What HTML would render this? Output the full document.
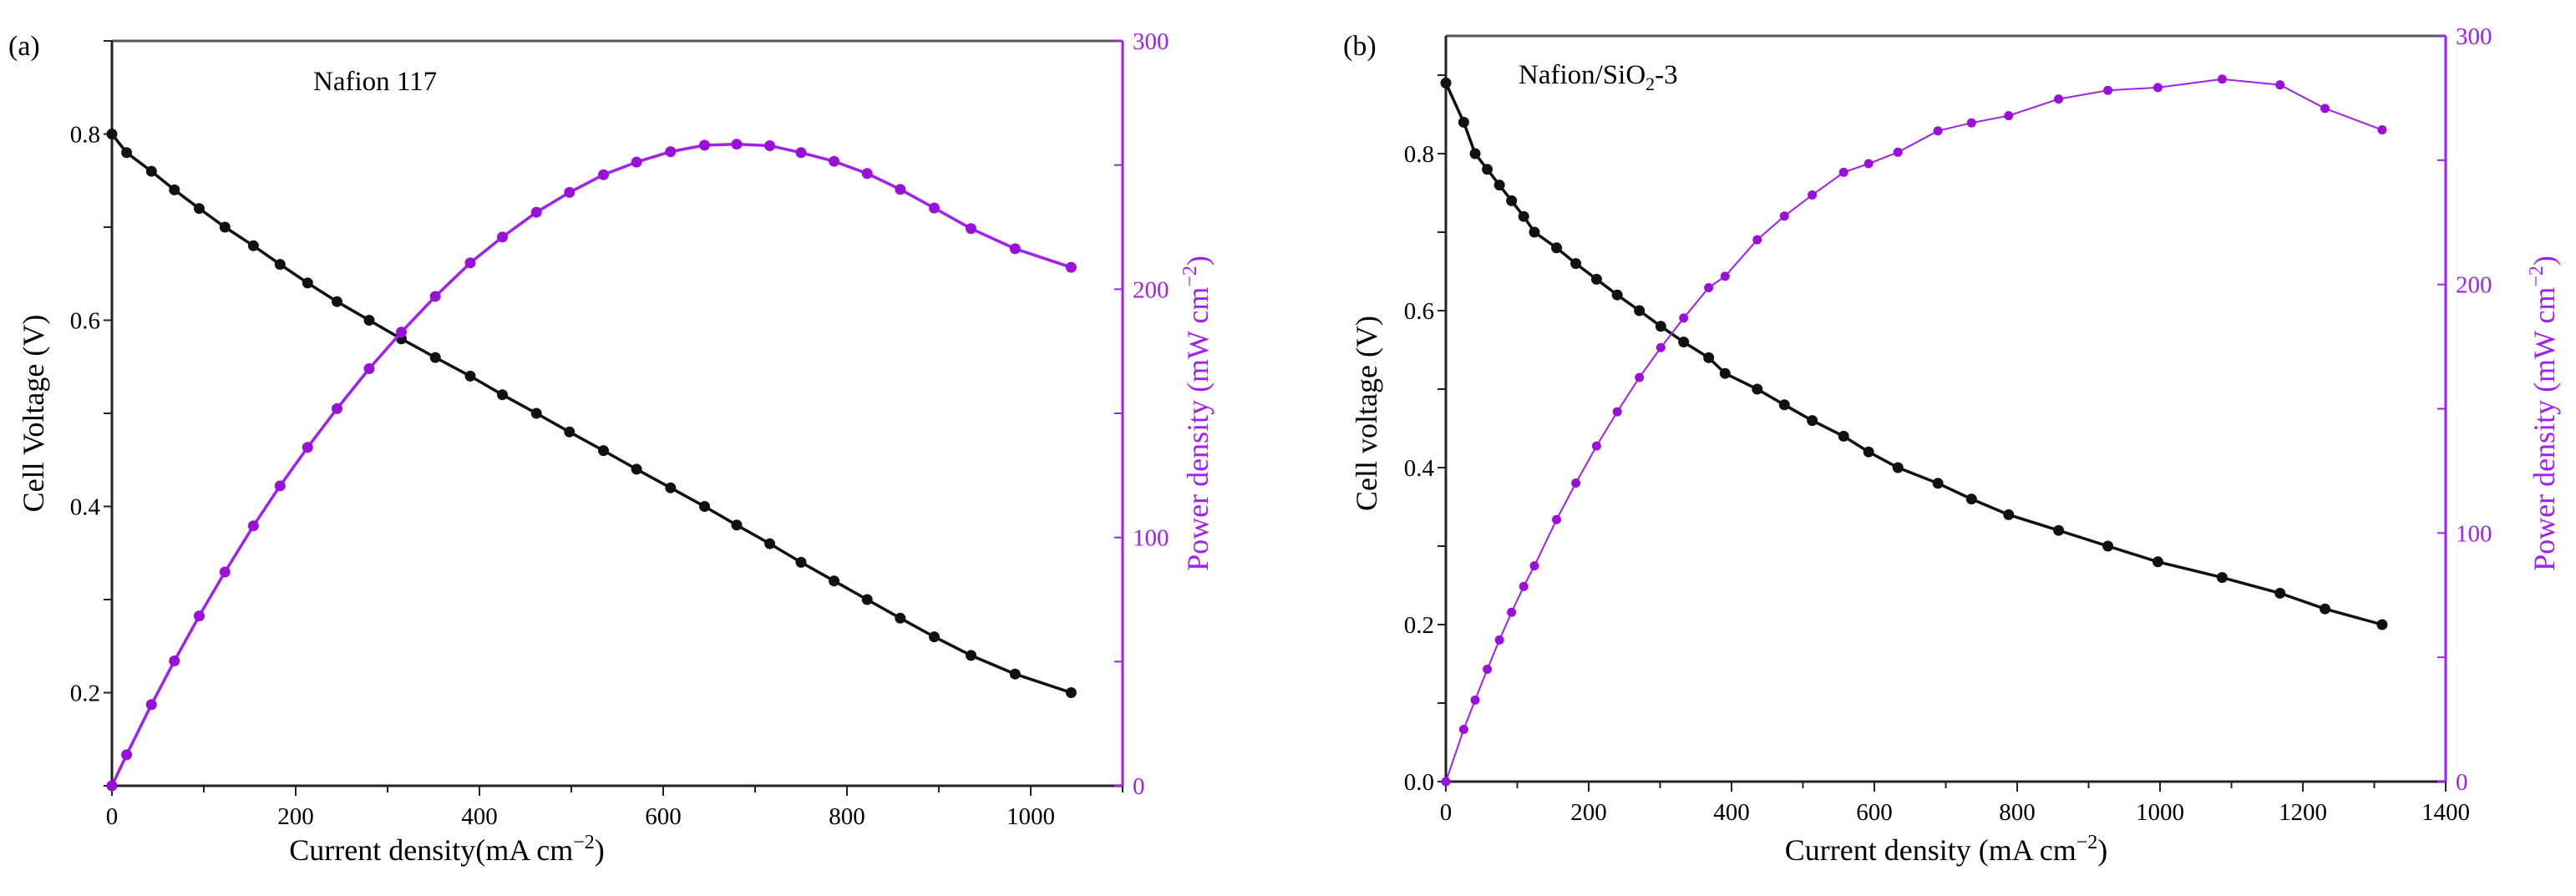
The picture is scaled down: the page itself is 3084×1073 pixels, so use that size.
<!DOCTYPE html>
<html><head><meta charset="utf-8"><style>
html,body{margin:0;padding:0;background:#fff;}
svg{display:block;font-family:"Liberation Serif",serif;}
</style></head><body>
<svg id="fig" width="3084" height="1073" viewBox="0 0 3084 1073" xmlns="http://www.w3.org/2000/svg">
<text x="10" y="66" font-size="34">(a)</text>
<text x="1608" y="66" font-size="34">(b)</text>
<text x="375" y="108" font-size="33">Nafion 117</text>
<text x="1818" y="100" font-size="33">Nafion/SiO<tspan font-size="22" dy="8">2</tspan><tspan dy="-8">-3</tspan></text>
<text x="535" y="1030" font-size="36" text-anchor="middle">Current density(mA cm<tspan font-size="24" dy="-14">−2</tspan><tspan dy="14">)</tspan></text>
<text x="2330" y="1030" font-size="36" text-anchor="middle">Current density (mA cm<tspan font-size="24" dy="-14">−2</tspan><tspan dy="14">)</tspan></text>
<text transform="translate(52,495) rotate(-90)" font-size="36" text-anchor="middle">Cell Voltage (V)</text>
<text transform="translate(1648,495) rotate(-90)" font-size="36" text-anchor="middle">Cell voltage (V)</text>
<text transform="translate(1446,495) rotate(-90)" font-size="36" fill="#a020f0" text-anchor="middle">Power density (mW cm<tspan font-size="24" dy="-14">−2</tspan><tspan dy="14">)</tspan></text>
<text transform="translate(3058,495) rotate(-90)" font-size="36" fill="#a020f0" text-anchor="middle">Power density (mW cm<tspan font-size="24" dy="-14">−2</tspan><tspan dy="14">)</tspan></text>
<g id="plots"></g>
</svg>
<script>
// Panel (a) Nafion 117
const currentA = [0,16,43,68,95,123,154,183,213,245,280,315,352,390,425,462,498,535,571,608,645,680,716,750,786,822,858,895,935,983,1044];
const voltageA = [0.80,0.78,0.76,0.74,0.72,0.70,0.68,0.66,0.64,0.62,0.60,0.58,0.56,0.54,0.52,0.50,0.48,0.46,0.44,0.42,0.40,0.38,0.36,0.34,0.32,0.30,0.28,0.26,0.24,0.22,0.20];
const powerA = [0,12.5,32.7,50.3,68.4,86.1,104.7,120.8,136.3,151.9,168,182.7,197.1,210.6,221,231,239,246.1,251.2,255.4,258,258.4,257.8,255,251.5,246.6,240.2,232.7,224.4,216.3,208.8];
// Panel (b) Nafion/SiO2-3
const currentB = [0,25,41,58,75,92,109,124,155,182,211,240,271,301,333,368,391,436,474,513,557,592,633,689,736,788,858,927,997,1087,1168,1231,1311];
const voltageB = [0.89,0.84,0.80,0.78,0.76,0.74,0.72,0.70,0.68,0.66,0.64,0.62,0.60,0.58,0.56,0.54,0.52,0.50,0.48,0.46,0.44,0.42,0.40,0.38,0.36,0.34,0.32,0.30,0.28,0.26,0.24,0.22,0.20];
const powerB = [0,21,32.8,45.2,57,68.1,78.5,86.8,105.4,120.1,135,148.8,162.6,174.6,186.5,198.7,203.3,218,227.5,236,245.1,248.6,253.2,261.8,265,267.9,274.6,278.1,279.2,282.6,280.3,270.8,262.2];
const xTicksA = [0,200,400,600,800,1000];
const xTicksB = [0,200,400,600,800,1000,1200,1400];
const yTicksA = ["0.2","0.4","0.6","0.8"];
const yTicksB = ["0.0","0.2","0.4","0.6","0.8"];
const pTicks = [0,100,200,300];

const NS = "http://www.w3.org/2000/svg";
const root = document.getElementById('plots');
const PUR = "#a020f0", PURM = "#9a10d8";
function mk(tag, attrs, parent) {
  const e = document.createElementNS(NS, tag);
  for (const k in attrs) e.setAttribute(k, attrs[k]);
  (parent || root).appendChild(e);
  return e;
}
function panel(cfg) {
  const g = mk('g', {});
  
  
  const X = v => cfg.x0 + (v - cfg.xmin) / (cfg.xmax - cfg.xmin) * (cfg.x1 - cfg.x0);
  const Y = v => cfg.yb - (v - cfg.vmin) / (cfg.vmax - cfg.vmin) * (cfg.yb - cfg.yt);
  const P = v => cfg.yb - v / 300 * (cfg.yb - cfg.pt);
  // frame
  const top = mk('line', {x1: cfg.x0, y1: cfg.yt, x2: cfg.x1, y2: cfg.yt, stroke: '#555', 'stroke-width': 3}, g);
  
  
  const la = mk('line', {x1: cfg.x0, y1: cfg.yt, x2: cfg.x0, y2: cfg.yb, stroke: '#222', 'stroke-width': 3}, g);
  
  
  const ba = mk('line', {x1: cfg.x0, y1: cfg.yb, x2: cfg.x1, y2: cfg.yb, stroke: '#222', 'stroke-width': 3}, g);
  
  
  const ra = mk('line', {x1: cfg.x1, y1: cfg.pt, x2: cfg.x1, y2: cfg.yb, stroke: PUR, 'stroke-width': 3}, g);
  
  
  // x ticks
  for (let v = cfg.xmin; v <= cfg.xmax + 0.1; v += 100) {
    const major = v % 200 === 0;
    mk('line', {x1: X(v), y1: cfg.yb, x2: X(v), y2: cfg.yb + (major ? 12 : 8), stroke: '#222', 'stroke-width': 2}, g);
  }
  cfg.xt.forEach(v => {
    const t = mk('text', {x: X(v), y: cfg.yb + 46, 'font-size': 29, 'text-anchor': 'middle'}, g);
    
    
    t.textContent = v;
  });
  // left ticks
  for (let v = cfg.vmin; v <= cfg.vmax + 1e-6; v += 0.1) {
    mk('line', {x1: cfg.x0, y1: Y(v), x2: cfg.x0 - 10, y2: Y(v), stroke: '#222', 'stroke-width': 2}, g);
  }
  cfg.yt_.forEach(s => {
    const t = mk('text', {x: cfg.x0 - 14, y: Y(parseFloat(s)) + 10, 'font-size': 29, 'text-anchor': 'end'}, g);
    
    
    t.textContent = s;
  });
  // right ticks
  for (let v = 0; v <= 300; v += 50) {
    mk('line', {x1: cfg.x1, y1: P(v), x2: cfg.x1 - 10, y2: P(v), stroke: PUR, 'stroke-width': 2}, g);
  }
  pTicks.forEach(v => {
    const t = mk('text', {x: cfg.x1 + 12, y: P(v) + 10, 'font-size': 29, fill: PUR}, g);
    
    
    t.textContent = v;
  });
  // voltage series
  const vl = mk('polyline', {points: cfg.I.map((c, i) => X(c) + ',' + Y(cfg.V[i])).join(' '), fill: 'none', stroke: '#111', 'stroke-width': 3.5}, g);
  
  
  cfg.I.forEach((c, i) => {
    const m = mk('circle', {cx: X(c), cy: Y(cfg.V[i]), r: 6.5, fill: '#111'}, g);
    
    
  });
  const pl = mk('polyline', {points: cfg.I.map((c, i) => X(c) + ',' + P(cfg.Pw[i])).join(' '), fill: 'none', stroke: PUR, 'stroke-width': cfg.pw}, g);
  
  
  cfg.I.forEach((c, i) => {
    const m = mk('circle', {cx: X(c), cy: P(cfg.Pw[i]), r: cfg.pr, fill: PURM}, g);
    
    
  });
}
panel({name: 'panel-a', x0: 134, x1: 1344, xmin: 0, xmax: 1100, yt: 49, yb: 941, vmin: 0.1, vmax: 0.9, pt: 49,
  I: currentA, V: voltageA, Pw: powerA, xt: xTicksA, yt_: yTicksA, pw: 3.5, pr: 6.5});
panel({name: 'panel-b', x0: 1731, x1: 2928, xmin: 0, xmax: 1400, yt: 43, yb: 936, vmin: 0, vmax: 0.95, pt: 43,
  I: currentB, V: voltageB, Pw: powerB, xt: xTicksB, yt_: yTicksB, pw: 2, pr: 5.5});
</script>
</body></html>
